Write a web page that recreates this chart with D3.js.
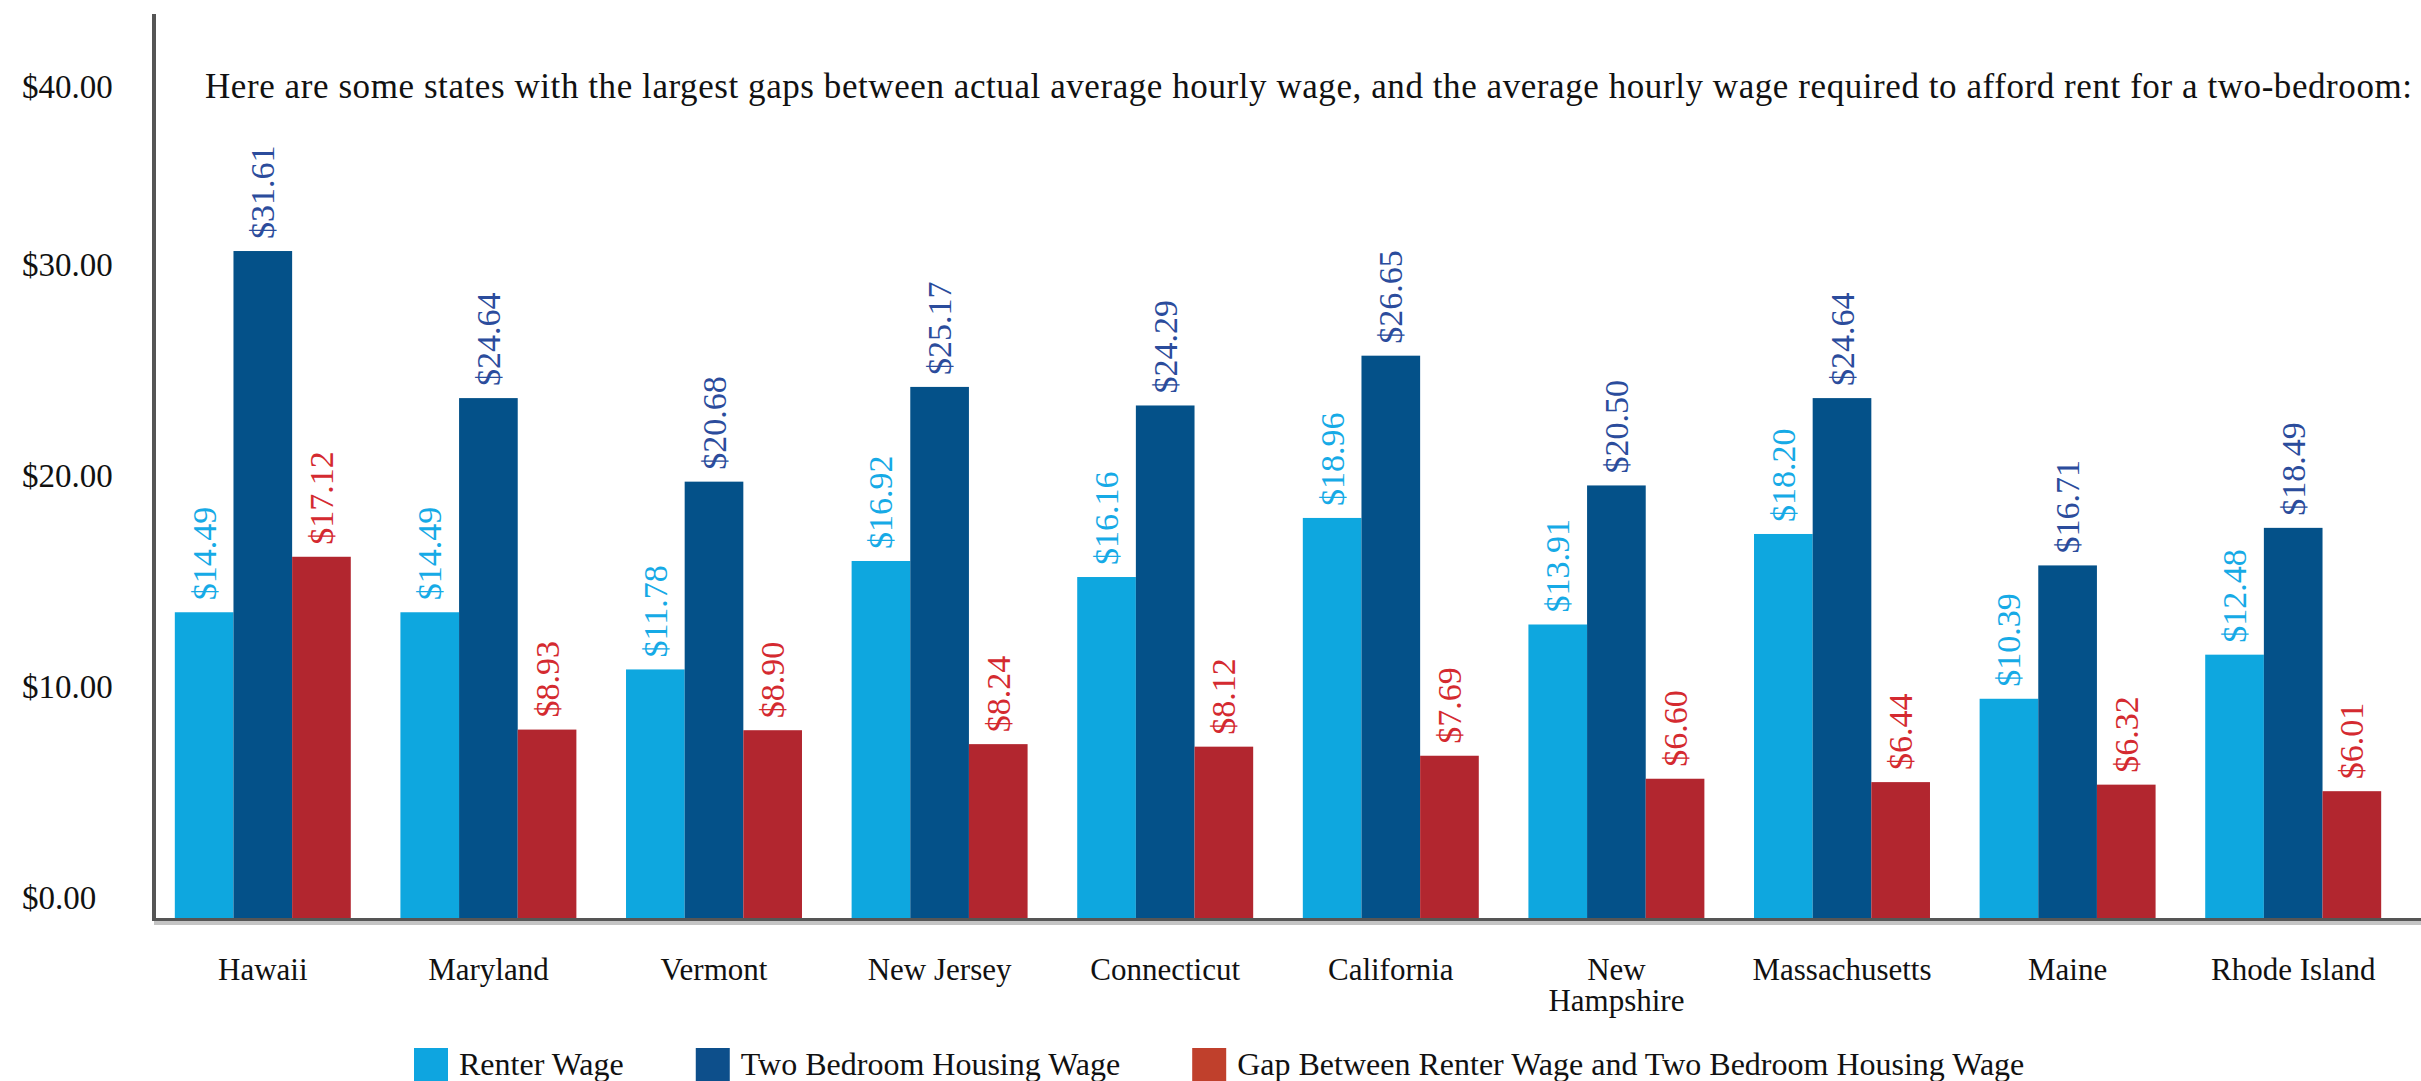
<!DOCTYPE html>
<html>
<head>
<meta charset="utf-8">
<script src="https://cdn.jsdelivr.net/npm/d3@7"></script>
<style>
  html, body { margin: 0; padding: 0; background: #ffffff; }
  svg { display: block; }
  text { font-family: "Liberation Serif", "DejaVu Serif", serif; }
</style>
</head>
<body>
<script>
// ---- data ----
const states = ["Hawaii", "Maryland", "Vermont", "New Jersey", "Connecticut",
                "California", "New Hampshire", "Massachusetts", "Maine", "Rhode Island"];
const stateLabels = [["Hawaii"], ["Maryland"], ["Vermont"], ["New Jersey"], ["Connecticut"],
                     ["California"], ["New", "Hampshire"], ["Massachusetts"], ["Maine"], ["Rhode Island"]];
const renterWage = [14.49, 14.49, 11.78, 16.92, 16.16, 18.96, 13.91, 18.20, 10.39, 12.48];
const twoBedroomWage = [31.61, 24.64, 20.68, 25.17, 24.29, 26.65, 20.50, 24.64, 16.71, 18.49];
const gapWage = [17.12, 8.93, 8.90, 8.24, 8.12, 7.69, 6.60, 6.44, 6.32, 6.01];
const seriesNames = ["Renter Wage", "Two Bedroom Housing Wage",
                     "Gap Between Renter Wage and Two Bedroom Housing Wage"];
const yTicks = [0, 10, 20, 30, 40];
const titleText = "Here are some states with the largest gaps between actual average hourly wage, and the average hourly wage required to afford rent for a two-bedroom:";

// ---- styles ----
const barColors = ["#0ea7df", "#045189", "#b2262f"];
const labelColors = ["#16aae6", "#2b4c9c", "#d42a30"];
const legendColors = ["#0ea5e0", "#0d4f8b", "#c0402c"];

const W = 2421, H = 1081;
const svg = d3.select("body").append("svg").attr("width", W).attr("height", H);

const baseY = 918;
const y = d3.scaleLinear().domain([0, 40]).range([baseY, baseY - 40 * 21.1]);
const x0 = d3.scaleBand().domain(states).range([150, 2406]).paddingInner(0.22).paddingOuter(0.11);
const x1 = d3.scaleBand().domain([0, 1, 2]).range([0, x0.bandwidth()]);

const series = [renterWage, twoBedroomWage, gapWage];
const rows = states.map((s, i) => ({ state: s, vals: series.map(arr => arr[i]) }));

// title
const titleY = 98;
svg.append("text")
  .attr("x", 205).attr("y", titleY)
  .attr("font-size", 35)
  .attr("fill", "#111")
  .attr("textLength", 2207)
  .attr("lengthAdjust", "spacing")
  .text(titleText);

// y tick labels
svg.append("g").selectAll("text").data(yTicks).join("text")
  .attr("x", 22)
  .attr("y", d => d === 40 ? titleY : y(d) - 9)
  .attr("font-size", 33)
  .attr("fill", "#111")
  .text(d => "$" + d3.format(".2f")(d));

// bars
const groups = svg.append("g").selectAll("g").data(rows).join("g")
  .attr("transform", d => `translate(${x0(d.state)},0)`);

groups.selectAll("rect").data(d => d.vals.map((v, k) => ({ v, k }))).join("rect")
  .attr("x", d => x1(d.k))
  .attr("y", d => y(d.v))
  .attr("width", x1.bandwidth())
  .attr("height", d => baseY - y(d.v))
  .attr("fill", d => barColors[d.k]);

// value labels (rotated)
groups.selectAll("text.val").data(d => d.vals.map((v, k) => ({ v, k }))).join("text")
  .attr("class", "val")
  .attr("transform", d => `translate(${x1(d.k) + x1.bandwidth() / 2},${y(d.v) - 12}) rotate(-90)`)
  .attr("text-anchor", "start")
  .attr("dominant-baseline", "central")
  .attr("font-size", 34)
  .attr("fill", d => labelColors[d.k])
  .text(d => "$" + d3.format(".2f")(d.v));

// axes lines
svg.append("line")
  .attr("x1", 154).attr("x2", W).attr("y1", baseY + 5).attr("y2", baseY + 5)
  .attr("stroke", "#c4c4c4").attr("stroke-width", 4);
svg.append("line")
  .attr("x1", 154).attr("x2", W).attr("y1", baseY + 1.5).attr("y2", baseY + 1.5)
  .attr("stroke", "#555").attr("stroke-width", 3);
svg.append("line")
  .attr("x1", 154).attr("x2", 154).attr("y1", 14).attr("y2", baseY + 3)
  .attr("stroke", "#555").attr("stroke-width", 4);

// x labels
const xl = svg.append("g").selectAll("text").data(states.map((s, i) => ({ s, lines: stateLabels[i] }))).join("text")
  .attr("x", d => x0(d.s) + x0.bandwidth() / 2)
  .attr("y", 980)
  .attr("text-anchor", "middle")
  .attr("font-size", 31)
  .attr("fill", "#111");
xl.selectAll("tspan").data(d => d.lines.map(l => ({ l, x: x0(d.s) + x0.bandwidth() / 2 }))).join("tspan")
  .attr("x", d => d.x)
  .attr("dy", (d, i) => i === 0 ? 0 : 31)
  .text(d => d.l);

// legend
const leg = svg.append("g");
let lx = 414;
seriesNames.forEach((name, k) => {
  leg.append("rect").attr("x", lx).attr("y", 1048).attr("width", 34).attr("height", 34)
    .attr("fill", legendColors[k]);
  const t = leg.append("text").attr("x", lx + 45).attr("y", 1075)
    .attr("font-size", 32).attr("fill", "#111").text(name);
  lx = lx + 45 + t.node().getComputedTextLength() + 72;
});
</script>
</body>
</html>
